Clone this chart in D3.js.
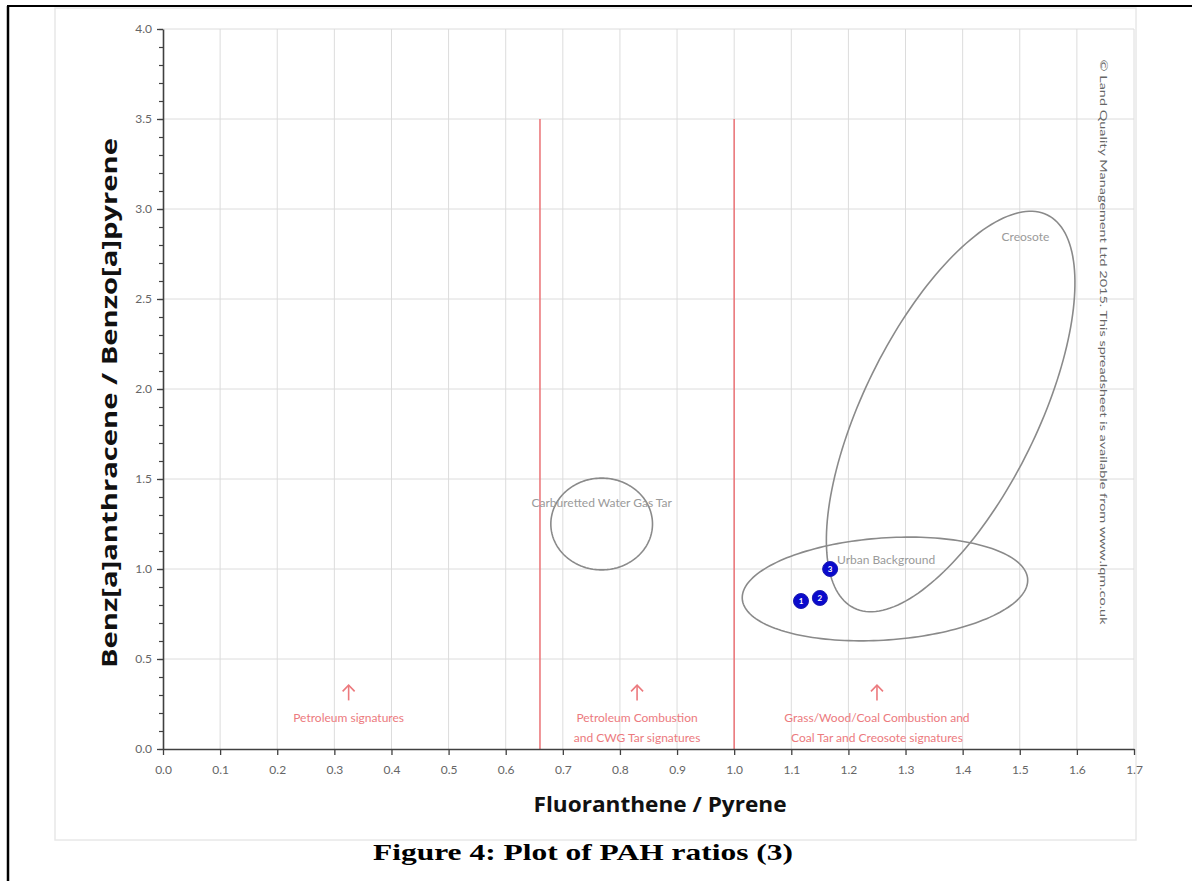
<!DOCTYPE html>
<html>
<head>
<meta charset="utf-8">
<script src="https://cdn.jsdelivr.net/npm/d3@7"></script>
<style>
  html, body { margin: 0; padding: 0; background: #fff; }
  svg { display: block; }
</style>
</head>
<body>
<svg id="chart" width="1192" height="881"></svg>
<script>
// ---------- data ----------
const xTicks = [0.0,0.1,0.2,0.3,0.4,0.5,0.6,0.7,0.8,0.9,1.0,1.1,1.2,1.3,1.4,1.5,1.6,1.7];
const yTicks = [0.0,0.5,1.0,1.5,2.0,2.5,3.0,3.5,4.0];
const yMinorTicks = d3.range(0, 41).map(i => i / 10);

// sample points: [label, Fluoranthene/Pyrene, BaA/BaP]
const sampleLabels = ["1", "2", "3"];
const sampleX = [1.117, 1.150, 1.168];
const sampleY = [0.822, 0.839, 1.000];

// boundary lines between source signatures (x value, top y value)
const boundaryX = [0.66, 1.0];
const boundaryTop = [3.5, 3.5];

// source regions: name, centre, semi-axis vectors (data units)
const regionNames = ["Carburetted Water Gas Tar", "Urban Background", "Creosote"];
const regionCentre = [[0.768, 1.25], [1.264, 0.889], [1.379, 1.875]];
const regionAxisU = [[0.089, 0.0], [0.2498, 0.0556], [0.1693, 1.0917]];
const regionAxisV = [[0.0, 0.255], [0.0063, -0.2828], [0.1367, -0.2133]];
const regionLabelPos = [[0.768, 1.345], [1.18, 1.03], [1.51, 2.82]];
const regionLabelAnchor = ["middle", "start", "middle"];

// source signature annotations
const sigX = [0.325, 0.83, 1.25];
const sigLines = [
  ["Petroleum signatures"],
  ["Petroleum Combustion", "and CWG Tar signatures"],
  ["Grass/Wood/Coal Combustion and", "Coal Tar and Creosote signatures"]
];

const xTitle = "Fluoranthene / Pyrene";
const yTitle = "Benz[a]anthracene / Benzo[a]pyrene";
const caption = "Figure 4: Plot of PAH ratios (3)";
const copyright = "\u00A9 Land Quality Management Ltd 2015. This spreadsheet is available from  www.lqm.co.uk";

// ---------- layout ----------
const svg = d3.select("#chart");
const plot = { left: 163, right: 1134, top: 29, bottom: 749 };
const x = d3.scaleLinear().domain([0, 1.7]).range([plot.left, plot.right]);
const y = d3.scaleLinear().domain([0, 4.0]).range([plot.bottom, plot.top]);

const uiFont = "Lato, 'Open Sans', sans-serif";
const red = "#ec7a7e";

// page frame
svg.append("rect").attr("x", 55).attr("y", 8).attr("width", 1081).attr("height", 832)
  .attr("fill", "#fff").attr("stroke", "#e8e8e8").attr("stroke-width", 1.5);
svg.append("line").attr("x1", 8).attr("x2", 8).attr("y1", 6).attr("y2", 881)
  .attr("stroke", "#000").attr("stroke-width", 2.5);
svg.append("line").attr("x1", 7).attr("x2", 1192).attr("y1", 6).attr("y2", 6)
  .attr("stroke", "#000").attr("stroke-width", 2);

// grid
const grid = svg.append("g");
grid.selectAll("line.v").data(xTicks.filter(d => d > 0)).join("line")
  .attr("x1", d => x(d)).attr("x2", d => x(d))
  .attr("y1", y(4.0)).attr("y2", y(0))
  .attr("stroke", "#dcdcdc").attr("stroke-width", 1);
grid.selectAll("line.h").data(yTicks.filter(d => d > 0)).join("line")
  .attr("x1", x(0)).attr("x2", x(1.7))
  .attr("y1", d => y(d)).attr("y2", d => y(d))
  .attr("stroke", "#dcdcdc").attr("stroke-width", 1);

// boundary lines
svg.selectAll("line.bound").data(boundaryX).join("line")
  .attr("x1", d => x(d)).attr("x2", d => x(d))
  .attr("y1", y(0)).attr("y2", (d, i) => y(boundaryTop[i]))
  .attr("stroke", red).attr("stroke-width", 1.6);

// axes
const xAxis = d3.axisBottom(x).tickValues(xTicks).tickFormat(d3.format(".1f")).tickSize(6).tickSizeOuter(0);
const gx = svg.append("g").attr("transform", `translate(0,${plot.bottom})`).call(xAxis);
gx.select(".domain").attr("stroke", "#404040").attr("stroke-width", 1.6);
gx.selectAll(".tick line").attr("stroke", "#404040").attr("stroke-width", 1.3);
gx.selectAll(".tick text").attr("fill", "#666").attr("font-size", 12).attr("font-family", uiFont).attr("dy", "1.35em");

const yMinor = d3.axisLeft(y).tickValues(yMinorTicks).tickFormat("").tickSize(4).tickSizeOuter(0);
const gym = svg.append("g").attr("transform", `translate(${plot.left},0)`).call(yMinor);
gym.select(".domain").remove();
gym.selectAll(".tick line").attr("stroke", "#404040").attr("stroke-width", 1.2);

const yAxis = d3.axisLeft(y).tickValues(yTicks).tickFormat(d3.format(".1f")).tickSize(6).tickSizeOuter(0);
const gy = svg.append("g").attr("transform", `translate(${plot.left},0)`).call(yAxis);
gy.select(".domain").attr("stroke", "#404040").attr("stroke-width", 1.6);
gy.selectAll(".tick line").attr("stroke", "#404040").attr("stroke-width", 1.3);
gy.selectAll(".tick text").attr("fill", "#666").attr("font-size", 12).attr("font-family", uiFont).attr("x", -11);

// regions (ellipses drawn through the scales)
const line = d3.line().x(p => x(p[0])).y(p => y(p[1])).curve(d3.curveLinearClosed);
const tSteps = d3.range(0, 180).map(i => i / 180 * 2 * Math.PI);
regionNames.forEach((name, i) => {
  const c = regionCentre[i], u = regionAxisU[i], v = regionAxisV[i];
  const pts = tSteps.map(t => [c[0] + Math.cos(t) * u[0] + Math.sin(t) * v[0],
                               c[1] + Math.cos(t) * u[1] + Math.sin(t) * v[1]]);
  svg.append("path").attr("d", line(pts)).attr("fill", "none")
    .attr("stroke", "#8a8a8a").attr("stroke-width", 1.6);
  svg.append("text").attr("x", x(regionLabelPos[i][0])).attr("y", y(regionLabelPos[i][1]))
    .attr("text-anchor", regionLabelAnchor[i]).attr("font-family", uiFont)
    .attr("font-size", 12).attr("fill", "#9a9a9a").text(name);
});

// signature annotations
sigX.forEach((sx, i) => {
  const cx = x(sx);
  const g = svg.append("g").attr("stroke", red).attr("stroke-width", 1.6).attr("fill", "none");
  g.append("line").attr("x1", cx).attr("x2", cx).attr("y1", y(0.27)).attr("y2", y(0.355));
  g.append("path").attr("d", `M${cx - 6},${y(0.32)} L${cx},${y(0.355)} L${cx + 6},${y(0.32)}`);
  sigLines[i].forEach((txt, j) => {
    svg.append("text").attr("x", cx).attr("y", y(0.15) + j * 20)
      .attr("text-anchor", "middle").attr("font-family", uiFont).attr("font-size", 12)
      .attr("fill", red).text(txt);
  });
});

// sample points
const pts = svg.append("g");
sampleLabels.forEach((lab, i) => {
  pts.append("circle").attr("cx", x(sampleX[i])).attr("cy", y(sampleY[i])).attr("r", 7.5)
    .attr("fill", "#0a0acc").attr("stroke", "#1a1ab0").attr("stroke-width", 1);
  pts.append("text").attr("x", x(sampleX[i])).attr("y", y(sampleY[i]) + 3)
    .attr("text-anchor", "middle").attr("font-family", uiFont).attr("font-size", 8)
    .attr("font-weight", "bold").attr("fill", "#fff").text(lab);
});

// titles
svg.append("text").attr("x", 660).attr("y", 812).attr("text-anchor", "middle")
  .attr("font-family", "'Open Sans', sans-serif").attr("font-weight", "bold").attr("font-size", 22)
  .attr("fill", "#111").attr("textLength", 253).attr("lengthAdjust", "spacingAndGlyphs").text(xTitle);
svg.append("text").attr("transform", "translate(117,403) rotate(-90)").attr("text-anchor", "middle")
  .attr("font-family", "'Open Sans', sans-serif").attr("font-weight", "bold").attr("font-size", 22)
  .attr("fill", "#111").attr("textLength", 530).attr("lengthAdjust", "spacingAndGlyphs").text(yTitle);
svg.append("text").attr("x", 583).attr("y", 860).attr("text-anchor", "middle")
  .attr("font-family", "'Liberation Serif', 'Times New Roman', serif").attr("font-weight", "bold").attr("font-size", 24)
  .attr("fill", "#000").attr("textLength", 420).attr("lengthAdjust", "spacingAndGlyphs").text(caption);

// copyright
svg.append("text").attr("transform", "translate(1100,342) rotate(90)").attr("text-anchor", "middle")
  .attr("font-family", uiFont).attr("font-size", 10).attr("fill", "#666")
  .attr("textLength", 565).attr("lengthAdjust", "spacingAndGlyphs").text(copyright);
</script>
</body>
</html>
